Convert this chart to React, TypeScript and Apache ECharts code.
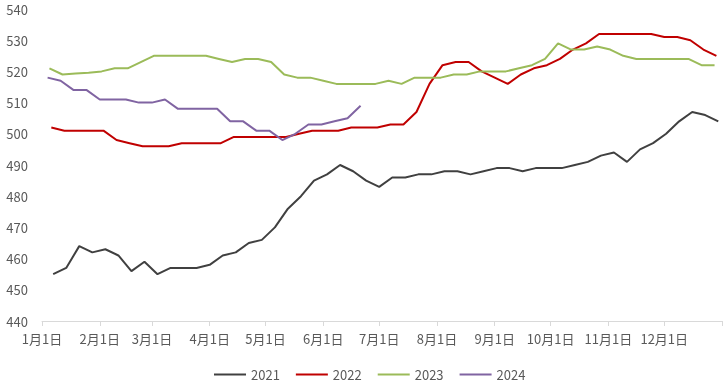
import React, { useEffect, useRef } from "react";
import * as echarts from "echarts";

const monthStartDays = [0, 31, 59, 90, 120, 151, 181, 212, 243, 273, 304, 334];
const monthLabels = ["1月1日", "2月1日", "3月1日", "4月1日", "5月1日", "6月1日", "7月1日", "8月1日", "9月1日", "10月1日", "11月1日", "12月1日"];
const yearEndDay = 365;

const seriesNames = ["2021", "2022", "2023", "2024"];
const firstDay = [6, 5, 4, 3];
const weekStep = 7;

const values2021 = [455, 457, 464, 462, 463, 461, 456, 459, 455, 457, 457, 457, 458, 461, 462, 465, 466, 470, 476, 480, 485, 487, 490, 488, 485, 483, 486, 486, 487, 487, 488, 488, 487, 488, 489, 489, 488, 489, 489, 489, 490, 491, 493, 494, 491, 495, 497, 500, 504, 507, 506, 504];
const values2022 = [502, 501, 501, 501, 501, 498, 497, 496, 496, 496, 497, 497, 497, 497, 499, 499, 499, 499, 499, 500, 501, 501, 501, 502, 502, 502, 503, 503, 507, 516, 522, 523, 523, 520, 518, 516, 519, 521, 522, 524, 527, 529, 532, 532, 532, 532, 532, 531, 531, 530, 527, 525];
const values2023 = [521, 519, 519.3, 519.6, 520, 521, 521, 523, 525, 525, 525, 525, 525, 524, 523, 524, 524, 523, 519, 518, 518, 517, 516, 516, 516, 516, 517, 516, 518, 518, 518, 519, 519, 520, 520, 520, 521, 522, 524, 529, 527, 527, 528, 527, 525, 524, 524, 524, 524, 524, 522, 522];
const values2024 = [518, 517, 514, 514, 511, 511, 511, 510, 510, 511, 508, 508, 508, 508, 504, 504, 501, 501, 498, 500, 503, 503, 504, 505, 509];

const allValues = [values2021, values2022, values2023, values2024];
const colors = ["#404040", "#C00000", "#9BBB59", "#8064A2"];

const FONT = "'Noto Sans CJK SC', 'Noto Sans', sans-serif";

export default function App() {
  const ref = useRef<HTMLDivElement>(null);
  useEffect(() => {
    if (!ref.current) return;
    const chart = echarts.init(ref.current, undefined, { renderer: "svg" });
    const series = seriesNames.map((name, k) => ({
      name,
      type: "line",
      symbol: "none",
      data: allValues[k].map((v, i) => [firstDay[k] + i * weekStep, v]),
      lineStyle: { color: colors[k], width: 2 },
      itemStyle: { color: colors[k] },
    }));
    chart.setOption({
      animation: false,
      grid: { left: 42, right: 5, top: 9, bottom: 70 },
      xAxis: {
        type: "value",
        min: 0,
        max: yearEndDay,
        splitLine: { show: false },
        axisLine: { show: true, lineStyle: { color: "#D9D9D9", width: 1 } },
        axisTick: {
          show: true,
          length: 5,
          lineStyle: { color: "#D9D9D9" },
          customValues: [...monthStartDays, yearEndDay],
        },
        axisLabel: {
          customValues: monthStartDays,
          formatter: (v: number) => monthLabels[monthStartDays.indexOf(v)] ?? "",
          color: "#595959",
          fontSize: 13,
          fontFamily: FONT,
          margin: 11,
        },
      },
      yAxis: {
        type: "value",
        min: 440,
        max: 540,
        interval: 10,
        splitLine: { show: false },
        axisLine: { show: false },
        axisTick: { show: false },
        axisLabel: { color: "#595959", fontSize: 13, fontFamily: FONT, margin: 14 },
      },
      legend: {
        top: 363,
        left: 209,
        icon: "rect",
        itemWidth: 32,
        itemHeight: 2,
        itemGap: 16,
        textStyle: { color: "#595959", fontSize: 13, fontFamily: FONT },
        data: seriesNames,
      },
      series,
    });
    return () => chart.dispose();
  }, []);
  return (
    <div
      ref={ref}
      style={{ position: "fixed", left: 0, top: 0, width: 727, height: 391 }}
    />
  );
}
